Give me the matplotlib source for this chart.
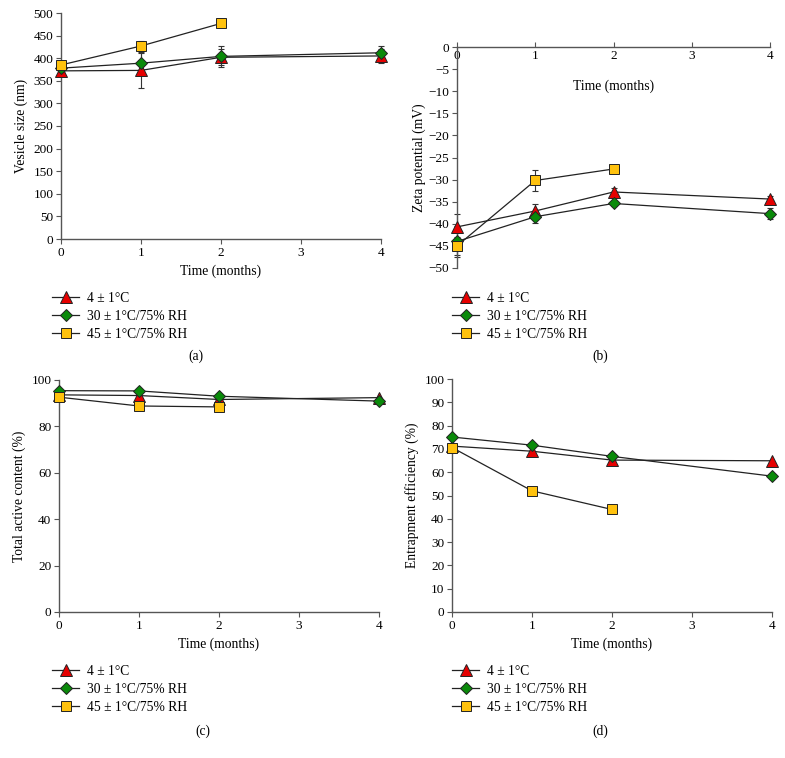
import matplotlib.pyplot as plt
import numpy as np

plt.rcParams['font.family'] = ['Liberation Serif', 'DejaVu Serif']
plt.rcParams['font.size'] = 9.5

months = [0, 1, 2, 4]
months45 = [0, 1, 2]
labels = ['4 ± 1°C', '30 ± 1°C/75% RH', '45 ± 1°C/75% RH']

# (a) vesicle size (nm)
size_4 = [372, 373, 402, 405]
size_30 = [378, 389, 404, 412]
size_45 = [385, 427, 477]
size_4_err = [4, 38, 18, 16]
size_30_err = [4, 25, 24, 15]
size_45_err = [4, 12, 4]

# (b) zeta potential (mV)
zeta_4 = [-40.7, -37.1, -32.8, -34.4]
zeta_30 = [-44.0, -38.4, -35.4, -37.7]
zeta_45 = [-45.0, -30.2, -27.6]
zeta_4_err = [3.0, 1.5, 0.8, 0.6]
zeta_30_err = [3.5, 1.4, 0.5, 1.2]
zeta_45_err = [2.0, 2.3, 0.5]

# (c) total active content (%)
tac_4 = [93.6, 93.3, 91.6, 92.4]
tac_30 = [95.4, 95.3, 93.0, 90.9]
tac_45 = [92.6, 88.8, 88.4]

# (d) entrapment efficiency (%)
ee_4 = [71.2, 69.0, 65.2, 64.9]
ee_30 = [75.1, 71.6, 66.8, 58.3]
ee_45 = [70.6, 52.0, 44.0]

styles = [
    dict(marker='^', color='#e60000'),
    dict(marker='D', color='#0a8a0a'),
    dict(marker='s', color='#ffc20e'),
]
msizes = [8.2, 6.5, 7.8]

fig = plt.figure(figsize=(7.85, 7.58), dpi=100)
W, H = 785, 758
FS = 9.8


def add_ax(x0, y_top, x1, y_bot):
    return fig.add_axes([x0 / W, 1 - y_bot / H, (x1 - x0) / W, (y_bot - y_top) / H])


def draw(ax, series, errs=None):
    handles = []
    for i, (xs, ys) in enumerate(series):
        if errs is not None:
            eb = ax.errorbar(xs, ys, yerr=errs[i], fmt='none', ecolor='#333333',
                             elinewidth=0.8, capsize=2.5, capthick=0.8, zorder=2)
            for art in eb.lines[1] + eb.lines[2]:
                art.set_clip_on(False)
        h, = ax.plot(xs, ys, color='#222222', lw=0.9, marker=styles[i]['marker'],
                     markersize=msizes[i], markerfacecolor=styles[i]['color'],
                     markeredgecolor='#222222', markeredgewidth=0.7, zorder=3 + i,
                     clip_on=False)
        handles.append(h)
    return handles


def style(ax):
    for s in ['top', 'right']:
        ax.spines[s].set_visible(False)
    for s in ['left', 'bottom']:
        ax.spines[s].set_color('#555555')
        ax.spines[s].set_linewidth(1.0)
    ax.tick_params(direction='out', length=3.5, width=0.8, color='#555555',
                   labelsize=9.5, pad=2)
    ax.set_xlim(0, 4)
    ax.set_xticks([0, 1, 2, 3, 4])


# (a)
ax_a = add_ax(61, 13, 381, 239)
h = draw(ax_a, [(months, size_4), (months, size_30), (months45, size_45)],
         [size_4_err, size_30_err, size_45_err])
style(ax_a)
ax_a.set_ylim(0, 500)
ax_a.set_yticks(np.arange(0, 501, 50))
ax_a.set_xlabel('Time (months)', fontsize=FS, labelpad=4)
ax_a.set_ylabel('Vesicle size (nm)', fontsize=FS, labelpad=4)

# (b)
ax_b = add_ax(457, 47, 770, 268)
draw(ax_b, [(months, zeta_4), (months, zeta_30), (months45, zeta_45)],
     [zeta_4_err, zeta_30_err, zeta_45_err])
style(ax_b)
ax_b.set_ylim(-50, 0)
ax_b.set_yticks(np.arange(-50, 1, 5))
ax_b.spines['bottom'].set_position(('data', 0))
ax_b.tick_params(axis='x', direction='in', length=3.5)
ax_b.set_xlabel('Time (months)', fontsize=FS)
ax_b.xaxis.set_label_coords(0.5, 0.855)
ax_b.set_ylabel('Zeta potential (mV)', fontsize=FS, labelpad=2)

# (c)
ax_c = add_ax(59, 380, 379, 612)
draw(ax_c, [(months, tac_4), (months, tac_30), (months45, tac_45)])
style(ax_c)
ax_c.set_ylim(0, 100)
ax_c.set_yticks(np.arange(0, 101, 20))
ax_c.set_xlabel('Time (months)', fontsize=FS, labelpad=4)
ax_c.set_ylabel('Total active content (%)', fontsize=FS, labelpad=4)

# (d)
ax_d = add_ax(452, 379, 772, 612)
draw(ax_d, [(months, ee_4), (months, ee_30), (months45, ee_45)])
style(ax_d)
ax_d.set_ylim(0, 100)
ax_d.set_yticks(np.arange(0, 101, 10))
ax_d.set_xlabel('Time (months)', fontsize=FS, labelpad=4)
ax_d.set_ylabel('Entrapment efficiency (%)', fontsize=FS, labelpad=4)

# legends and captions
for (lx, ly), cap, (cx, cy) in [((52, 292), '(a)', (196, 356)),
                                 ((452, 292), '(b)', (600, 356)),
                                 ((52, 665), '(c)', (203, 731)),
                                 ((452, 665), '(d)', (600, 731))]:
    fig.legend(h, labels, loc='upper left', bbox_to_anchor=(lx / W, 1 - ly / H),
               frameon=False, fontsize=FS, handlelength=2.0, handletextpad=0.6,
               labelspacing=0.35, borderaxespad=0, borderpad=0, markerscale=1.0)
    fig.text(cx / W, 1 - cy / H, cap, ha='center', va='center', fontsize=FS)

fig.savefig('out.png', dpi=100)
